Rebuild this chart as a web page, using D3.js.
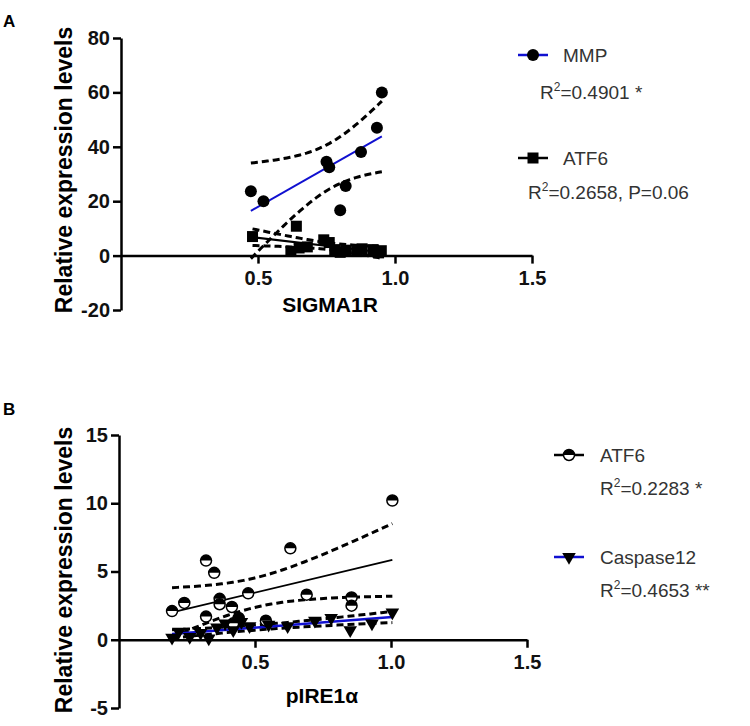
<!DOCTYPE html>
<html>
<head>
<meta charset="utf-8">
<script src="https://cdn.jsdelivr.net/npm/d3@7"></script>
<style>
body { margin: 0; background: #fff; }
text { font-family: "Liberation Sans", Arial, sans-serif; }
</style>
</head>
<body>
<svg id="chart" width="750" height="726"></svg>
<script>
// panel A : SIGMA1R vs MMP / ATF6
const mmpX = [0.474, 0.52, 0.75, 0.76, 0.80, 0.82, 0.876, 0.934, 0.952];
const mmpY = [23.7, 20.0, 34.5, 32.5, 16.7, 25.6, 38.1, 47.0, 60.0];
const atf6AX = [0.48, 0.62, 0.64, 0.65, 0.68, 0.74, 0.76, 0.78, 0.80, 0.82, 0.86, 0.88, 0.92, 0.94, 0.95];
const atf6AY = [7.0, 1.5, 10.8, 2.8, 3.2, 5.8, 4.8, 2.2, 1.2, 2.0, 1.5, 2.5, 2.2, 1.0, 1.8];

// panel B : pIRE1a vs ATF6 / Caspase12
const atf6BX = [0.195, 0.24, 0.32, 0.35, 0.37, 0.37, 0.32, 0.415, 0.44, 0.475, 0.42, 0.54, 0.63, 0.69, 0.855, 0.855, 1.005];
const atf6BY = [2.1, 2.7, 5.8, 4.9, 3.0, 2.6, 1.7, 2.4, 1.6, 3.4, 1.2, 1.4, 6.7, 3.3, 3.1, 2.5, 10.2];
const caspX = [0.195, 0.22, 0.26, 0.30, 0.33, 0.36, 0.39, 0.42, 0.45, 0.48, 0.55, 0.62, 0.72, 0.78, 0.85, 0.93, 1.005];
const caspY = [0.15, 0.6, 0.2, 0.5, 0.1, 0.9, 1.2, 0.7, 1.3, 1.0, 1.1, 1.0, 1.4, 1.6, 0.7, 1.2, 2.0];

const xTicks = [0.5, 1.0, 1.5];
const yTicksA = [-20, 0, 20, 40, 60, 80];
const yTicksB = [-5, 0, 5, 10, 15];

// two-sided 95% t values by degrees of freedom
const T975 = [NaN, 12.706, 4.303, 3.182, 2.776, 2.571, 2.447, 2.365, 2.306, 2.262, 2.228, 2.201, 2.179, 2.160,
              2.145, 2.131, 2.120, 2.110, 2.101, 2.093, 2.086, 2.080, 2.074, 2.069, 2.064, 2.060];

const svg = d3.select('#chart');

function fit(xs, ys) {
    const n = xs.length, mx = d3.mean(xs), my = d3.mean(ys);
    let sxx = 0, sxy = 0;
    xs.forEach((x, i) => { sxx += (x - mx) ** 2; sxy += (x - mx) * (ys[i] - my); });
    const b = sxy / sxx, a = my - b * mx;
    let sse = 0;
    xs.forEach((x, i) => { sse += (ys[i] - a - b * x) ** 2; });
    const s = Math.sqrt(sse / (n - 2));
    const t = T975[n - 2];
    const [x0, x1] = d3.extent(xs);
    const grid = d3.range(41).map(i => x0 + (x1 - x0) * i / 40);
    const half = x => t * s * Math.sqrt(1 / n + (x - mx) ** 2 / sxx);
    return {
        line: [[x0, a + b * x0], [x1, a + b * x1]],
        upper: grid.map(x => [x, a + b * x + half(x)]),
        lower: grid.map(x => [x, a + b * x - half(x)])
    };
}

function marker(g, type, cx, cy) {
    if (type === 'circle') {
        g.append('circle').attr('cx', cx).attr('cy', cy).attr('r', 6).attr('fill', '#000');
    } else if (type === 'square') {
        g.append('rect').attr('x', cx - 5.5).attr('y', cy - 5.5).attr('width', 11).attr('height', 11).attr('fill', '#000');
    } else if (type === 'half') {
        const r = 5.5;
        g.append('circle').attr('cx', cx).attr('cy', cy).attr('r', r)
            .attr('fill', '#fff').attr('stroke', '#000').attr('stroke-width', 1.5);
        g.append('path').attr('transform', `translate(${cx},${cy})`)
            .attr('d', `M${-r},0A${r},${r} 0 0 1 ${r},0Z`).attr('fill', '#000');
    } else if (type === 'tri') {
        g.append('path').attr('transform', `translate(${cx},${cy}) rotate(180)`)
            .attr('d', d3.symbol(d3.symbolTriangle, 80)()).attr('fill', '#000');
    }
}

function styleAxis(g) {
    g.attr('font-family', null);
    g.selectAll('path, line').attr('stroke', '#000').attr('stroke-width', 2.5);
    g.selectAll('text').attr('font-size', 20).attr('font-weight', 'bold').attr('fill', '#111');
}

function panel(cfg) {
    const g = svg.append('g');
    const x = d3.scaleLinear().domain([0, 1.5]).range(cfg.xRange);
    const y = d3.scaleLinear().domain(cfg.yDomain).range(cfg.yRange);

    g.append('g').attr('transform', `translate(${x(0)},0)`)
        .call(d3.axisLeft(y).tickValues(cfg.yTicks).tickFormat(d => String(d))
            .tickSize(8).tickPadding(3).tickSizeOuter(0))
        .call(styleAxis);
    g.append('g').attr('transform', `translate(0,${y(0)})`)
        .call(d3.axisBottom(x).tickValues(xTicks).tickFormat(d3.format('.1f')).tickSize(8).tickPadding(7).tickSizeOuter(0))
        .call(styleAxis);

    g.append('text').attr('transform', `translate(${cfg.yTitlePos[0]},${cfg.yTitlePos[1]}) rotate(-90)`)
        .attr('text-anchor', 'middle').attr('font-size', 23).attr('font-weight', 'bold')
        .text('Relative expression levels');
    g.append('text').attr('x', cfg.xTitlePos[0]).attr('y', cfg.xTitlePos[1])
        .attr('text-anchor', 'middle').attr('font-size', 21).attr('font-weight', 'bold')
        .text(cfg.xTitle);
    g.append('text').attr('x', 3).attr('y', cfg.labelY).attr('font-size', 17).attr('font-weight', 'bold')
        .text(cfg.label);

    const line = d3.line().x(d => x(d[0])).y(d => y(d[1]));
    cfg.series.forEach(s => {
        const f = fit(s.x, s.y);
        [f.upper, f.lower].forEach(band => {
            g.append('path').attr('d', line(band)).attr('fill', 'none')
                .attr('stroke', '#000').attr('stroke-width', 3).attr('stroke-dasharray', '7,4');
        });
        g.append('path').attr('d', line(f.line)).attr('fill', 'none')
            .attr('stroke', s.color).attr('stroke-width', s.lineWidth);
    });
    cfg.series.forEach(s => {
        s.x.forEach((v, i) => marker(g, s.marker, x(v), y(s.y[i])));
    });

    // legend
    cfg.series.forEach(s => {
        const L = s.legend;
        g.append('line').attr('x1', L.lx).attr('x2', L.lx + 30).attr('y1', L.ly).attr('y2', L.ly)
            .attr('stroke', s.color).attr('stroke-width', 2.5);
        marker(g, s.marker, L.lx + 15, L.ly);
        g.append('text').attr('x', L.tx).attr('y', L.ly + 7).attr('font-size', 19).attr('fill', '#333')
            .text(s.name);
        const r2 = g.append('text').attr('x', L.rx).attr('y', L.ry).attr('font-size', 19).attr('fill', '#333');
        r2.append('tspan').text('R');
        r2.append('tspan').attr('font-size', 12).attr('dy', -8).text('2');
        r2.append('tspan').attr('dy', 8).text(L.r2);
    });
}

panel({
    label: 'A', labelY: 27,
    xRange: [121, 532], yDomain: [-20, 80], yRange: [310, 38], yTicks: yTicksA,
    yTitlePos: [72, 170], xTitle: 'SIGMA1R', xTitlePos: [330, 312],
    series: [
        { name: 'MMP', x: mmpX, y: mmpY, marker: 'circle', color: '#1010d0', lineWidth: 2,
          legend: { lx: 518, ly: 55, tx: 563, rx: 540, ry: 99, r2: '=0.4901 *' } },
        { name: 'ATF6', x: atf6AX, y: atf6AY, marker: 'square', color: '#000', lineWidth: 2,
          legend: { lx: 518, ly: 158, tx: 563, rx: 528, ry: 199, r2: '=0.2658, P=0.06' } }
    ]
});

panel({
    label: 'B', labelY: 415,
    xRange: [119, 527], yDomain: [-5, 15], yRange: [708, 435], yTicks: yTicksB,
    yTitlePos: [72, 570], xTitle: 'pIRE1α', xTitlePos: [322, 703],
    series: [
        { name: 'ATF6', x: atf6BX, y: atf6BY, marker: 'half', color: '#000', lineWidth: 1.8,
          legend: { lx: 554, ly: 455, tx: 600, rx: 600, ry: 495, r2: '=0.2283 *' } },
        { name: 'Caspase12', x: caspX, y: caspY, marker: 'tri', color: '#1010d0', lineWidth: 2.5,
          legend: { lx: 554, ly: 557, tx: 600, rx: 600, ry: 597, r2: '=0.4653 **' } }
    ]
});
</script>
</body>
</html>
